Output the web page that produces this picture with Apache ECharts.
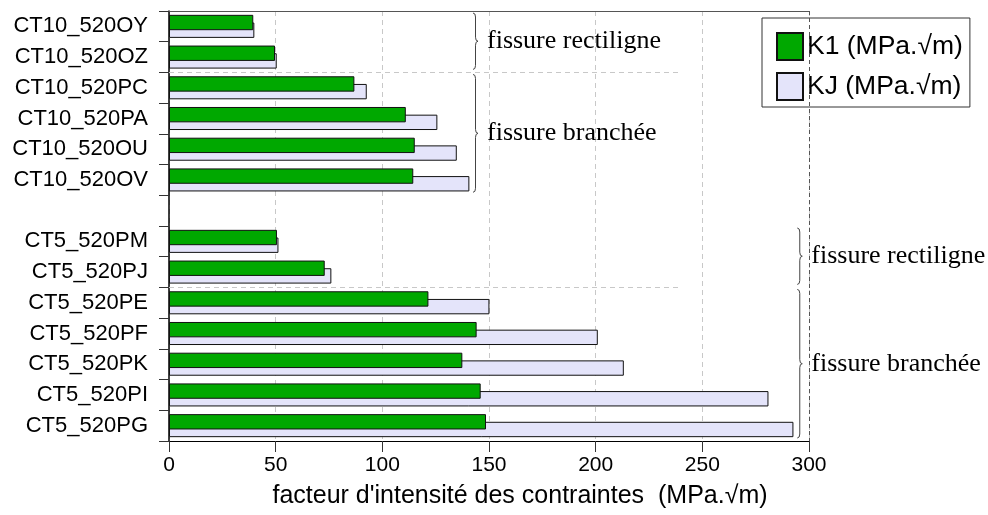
<!DOCTYPE html>
<html>
<head>
<meta charset="utf-8">
<script src="https://cdn.jsdelivr.net/npm/echarts@6/dist/echarts.min.js"></script>
<style>html,body{margin:0;padding:0;background:#fff}#c{width:988px;height:515px}</style>
</head>
<body>
<div id="c"></div>
<script>
// ---- data ----
const categories = ['CT10_520OY','CT10_520OZ','CT10_520PC','CT10_520PA','CT10_520OU','CT10_520OV','','CT5_520PM','CT5_520PJ','CT5_520PE','CT5_520PF','CT5_520PK','CT5_520PI','CT5_520PG'];
const k1Values = [39.5, 49.7, 86.9, 111.0, 115.2, 114.5, null, 50.6, 73.0, 121.6, 144.2, 137.5, 146.1, 148.6];
const kjValues = [40.0, 50.5, 92.7, 125.8, 134.9, 140.8, null, 51.3, 76.1, 150.2, 201.0, 213.2, 281.0, 292.7];
const seriesNames = ['K1 (MPa.\u221Am)', 'KJ (MPa.\u221Am)'];
const xTicks = [0, 50, 100, 150, 200, 250, 300];
const xAxisTitle = "facteur d'intensit\u00e9 des contraintes  (MPa.\u221Am)";
const groupLabels = ['fissure rectiligne', 'fissure branch\u00e9e', 'fissure rectiligne', 'fissure branch\u00e9e'];
const groupFirst = [0, 2, 7, 9];
const groupLast = [1, 5, 8, 13];

// ---- layout (not data) ----
const braceX = [142.5, 142.5, 294.5, 294.5];
const separatorAfter = [1, 8];
const separatorEnd = 239;

const chart = echarts.init(document.getElementById('c'), null, {renderer: 'canvas'});
const SANS = 'Liberation Sans, Arial, sans-serif';
const SERIF = 'Liberation Serif, Times New Roman, serif';

chart.setOption({
  animation: false,
  backgroundColor: '#fff',
  grid: {left: 169, right: 179, top: 11, bottom: 74, containLabel: false},
  legend: {
    orient: 'vertical', left: 762, top: 18,
    padding: [14, 7, 6, 14],
    icon: 'rect',
    itemWidth: 26, itemHeight: 27, itemGap: 11,
    borderColor: '#333', borderWidth: 1, backgroundColor: '#fff',
    textStyle: {fontFamily: SANS, fontSize: 26.5, color: '#000', padding: [0, 0, 0, -1]},
    data: seriesNames
  },
  xAxis: [{
    type: 'value', min: xTicks[0], max: xTicks[xTicks.length - 1], interval: 50,
    axisLine: {show: true, lineStyle: {color: '#000', width: 1}},
    axisTick: {show: true, length: 11, lineStyle: {color: '#333'}},
    axisLabel: {fontFamily: SANS, fontSize: 21, color: '#000', margin: 14},
    splitLine: {show: true, lineStyle: {type: [5, 4], color: '#c8c8c8', width: 1}},
    name: xAxisTitle, nameLocation: 'middle', nameGap: 43,
    nameTextStyle: {fontFamily: SANS, fontSize: 25, color: '#000', padding: [0, 0, 0, 62]}
  }, {
    type: 'value', position: 'top', min: xTicks[0], max: xTicks[xTicks.length - 1],
    axisLine: {show: true, lineStyle: {color: '#555', width: 1}},
    axisTick: {show: false}, axisLabel: {show: false}, splitLine: {show: false}
  }],
  yAxis: {
    type: 'category', data: categories, inverse: true,
    axisLine: {show: true, lineStyle: {color: '#000', width: 1.5}},
    axisTick: {show: true, length: 10, lineStyle: {color: '#333'}},
    axisLabel: {fontFamily: SANS, fontSize: 22, color: '#000', margin: 21},
    splitLine: {show: false}
  },
  series: [{
    name: seriesNames[0], type: 'bar', data: k1Values, z: 4,
    barGap: '-50%', barCategoryGap: '25%',
    itemStyle: {color: '#00a800', borderColor: '#111', borderWidth: 1}
  }, {
    name: seriesNames[1], type: 'bar', data: kjValues, z: 3,
    barGap: '-50%', barCategoryGap: '25%',
    itemStyle: {color: '#e4e4fa', borderColor: '#111', borderWidth: 1},
    markLine: {
      silent: true, symbol: 'none', label: {show: false},
      lineStyle: {type: [4, 3], color: '#555', width: 1},
      data: [{xAxis: xTicks[xTicks.length - 1]}]
    }
  }]
});

function px(x, ci) { return chart.convertToPixel({gridIndex: 0}, [x, ci]); }
const band = px(0, 1)[1] - px(0, 0)[1];
const elements = [];
const braceStyle = {stroke: '#444', lineWidth: 1, fill: null};
separatorAfter.forEach(function (ci) {
  const y = Math.round(px(0, ci)[1] + band / 2) + 0.5;
  elements.push({type: 'line', silent: true, z: 1,
    shape: {x1: px(0, ci)[0], y1: y, x2: px(separatorEnd, ci)[0], y2: y},
    style: {stroke: '#c8c8c8', lineWidth: 1, lineDash: [5, 4]}});
});
groupLabels.forEach(function (label, i) {
  const x0 = px(braceX[i], 0)[0];
  const y1 = px(0, groupFirst[i])[1] - band / 2 + 2;
  const y2 = px(0, groupLast[i])[1] + band / 2 - 3;
  const ym = (y1 + y2) / 2;
  const w = 5, xm = x0 + 2.5, r = 4;
  function q(ax, ay, cx, cy, bx, by) {
    elements.push({type: 'bezierCurve', silent: true, z: 5,
      shape: {x1: ax, y1: ay, cpx1: cx, cpy1: cy, x2: bx, y2: by}, style: braceStyle});
  }
  function l(ax, ay, bx, by) {
    elements.push({type: 'line', silent: true, z: 5,
      shape: {x1: ax, y1: ay, x2: bx, y2: by}, style: braceStyle});
  }
  q(x0, y1, xm, y1, xm, y1 + r);
  l(xm, y1 + r, xm, ym - r);
  q(xm, ym - r, xm, ym, x0 + w, ym);
  q(x0 + w, ym, xm, ym, xm, ym + r);
  l(xm, ym + r, xm, y2 - r);
  q(xm, y2 - r, xm, y2, x0, y2);
  elements.push({type: 'text', silent: true, z: 5,
    x: x0 + 14, y: ym,
    style: {text: label, font: '26px ' + SERIF, fill: '#000', verticalAlign: 'middle'}});
});
chart.setOption({graphic: {elements: elements}});
</script>
</body>
</html>
